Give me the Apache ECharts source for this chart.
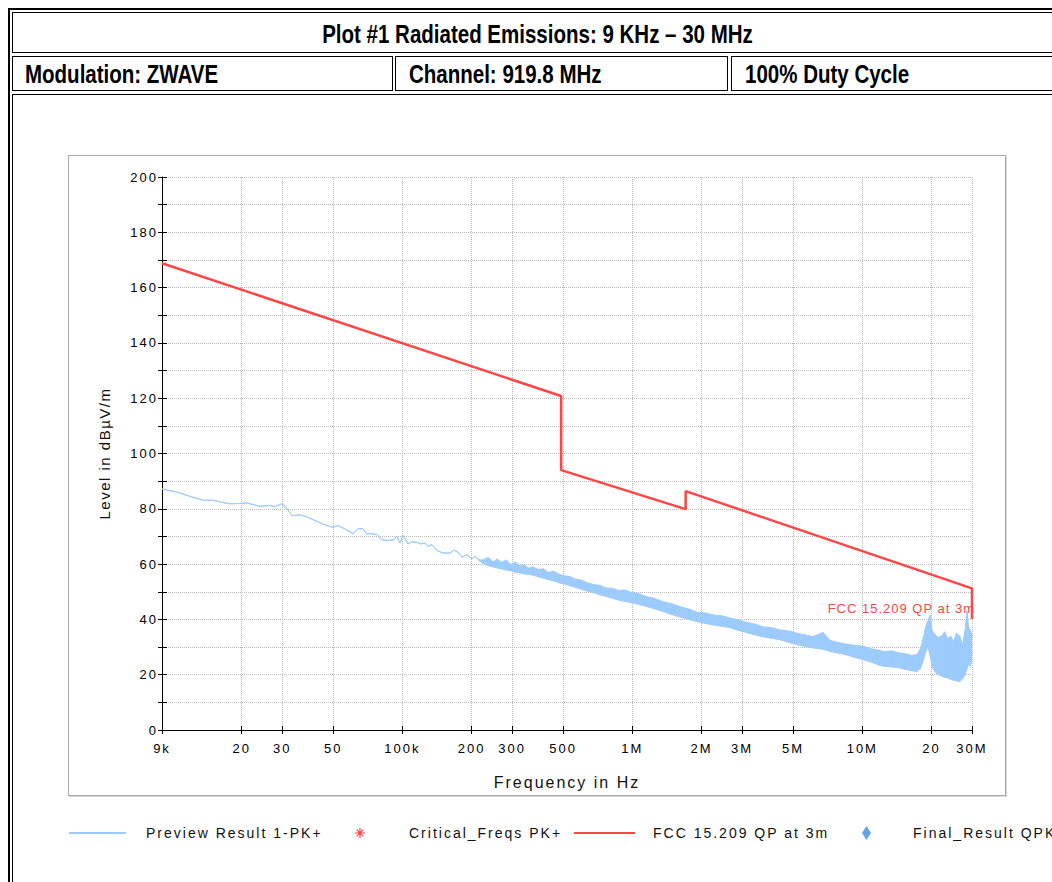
<!DOCTYPE html>
<html>
<head>
<meta charset="utf-8">
<script src="https://cdn.jsdelivr.net/npm/echarts@6/dist/echarts.min.js"></script>
<style>
html,body{margin:0;padding:0;background:#fff;width:1052px;height:882px;overflow:hidden;}
.ln{position:absolute;background:#000;}
.cell{position:absolute;box-sizing:border-box;border:1px solid #000;}
.hd{position:absolute;font-family:"Liberation Sans",Arial,sans-serif;font-weight:bold;font-size:25px;line-height:26px;color:#000;white-space:nowrap;transform:scaleX(0.82);transform-origin:0 50%;}
#title{left:0;width:1075px;text-align:center;transform-origin:50% 50%;}
#box{position:absolute;left:68px;top:155px;width:938px;height:641px;box-sizing:border-box;border:1px solid #a9a9a9;box-shadow:1px 1px 0 #d8d8d8;}
#chart{position:absolute;left:0;top:0;width:1052px;height:882px;}
</style>
</head>
<body>
<div class="ln" style="left:8px;top:8px;width:2px;height:874px"></div>
<div class="ln" style="left:8px;top:8px;width:1044px;height:2px"></div>
<div class="cell" style="left:12px;top:12px;width:1100px;height:41px"></div>
<div class="cell" style="left:12px;top:56px;width:381px;height:35px"></div>
<div class="cell" style="left:395px;top:56px;width:333px;height:35px"></div>
<div class="cell" style="left:731px;top:56px;width:500px;height:35px"></div>
<div class="cell" style="left:12px;top:94px;width:1100px;height:900px"></div>
<div class="hd" id="title" style="top:21px">Plot #1 Radiated Emissions: 9 KHz – 30 MHz</div>
<div class="hd" style="left:25px;top:61px">Modulation: ZWAVE</div>
<div class="hd" style="left:409px;top:61px">Channel: 919.8 MHz</div>
<div class="hd" style="left:745px;top:61px">100% Duty Cycle</div>
<div id="box"></div>
<div id="chart"></div>
<script>
// ---------------- data ----------------
const xTickValues = [9000, 20000, 30000, 50000, 100000, 200000, 300000, 500000, 1000000, 2000000, 3000000, 5000000, 10000000, 20000000, 30000000];
const xTickLabels = ['9k', '20', '30', '50', '100k', '200', '300', '500', '1M', '2M', '3M', '5M', '10M', '20', '30M'];
const yLabelValues = [0, 20, 40, 60, 80, 100, 120, 140, 160, 180, 200];

// Preview Result 1-PK+ : frequency (Hz), lower and upper edge of the trace (dBµV/m)
const previewFreq = [
  9000, 10500, 11900, 13600, 15000, 16500, 17800, 19500, 21100, 24000, 26500, 27900, 29900, 30900, 33100, 35900, 38000, 40800, 45100, 49400,
  52500, 56300, 61000, 64100, 67400, 70100, 72300, 74500, 77500, 81500, 86500, 91000, 94700, 97600, 100500, 105700, 110000, 115700, 120000, 125400,
  129200, 134500, 141400, 150200, 161000, 167000, 172800, 181600, 190900, 200800, 207000, 213200,
  224000, 236000, 248000, 258000, 270000, 283000, 296000, 310000, 325000, 340000, 355000, 370000, 390000, 410000, 430000, 455000, 480000, 505000,
  535000, 565000, 600000, 640000, 680000, 720000, 770000, 820000, 870000, 930000,
  1000000, 1070000, 1150000, 1250000, 1360000, 1480000, 1610000, 1760000, 1910000, 2080000, 2250000, 2450000, 2660000, 2900000, 3150000, 3420000,
  3700000, 4030000, 4390000, 4780000, 5200000, 5650000, 6100000, 6750000, 7250000, 7900000, 8600000, 9300000,
  10100000, 10900000, 11700000, 12500000, 13400000, 14400000, 15400000, 16400000, 17300000, 17900000, 18400000, 18900000, 19300000, 19700000, 20100000,
  20700000, 21400000, 22100000, 22800000, 23500000, 24200000, 24900000, 25700000, 26500000, 27300000, 28000000, 28500000, 29000000, 29500000, 30000000
];
const previewMin = [
  87.2, 86.0, 84.5, 83.1, 83.1, 82.3, 81.8, 81.9, 82.1, 80.9, 81.2, 80.8, 81.8, 80.9, 77.5, 77.8, 77.2, 76.1, 74.5, 73.3,
  73.9, 72.7, 71.0, 72.8, 72.8, 70.7, 71.1, 70.9, 70.7, 68.8, 68.5, 68.8, 70.0, 67.6, 70.5, 67.3, 68.0, 67.9, 67.3, 67.6,
  66.4, 67.0, 64.9, 64.0, 64.0, 65.0, 64.6, 62.5, 63.4, 61.9, 62.8, 61.6,
  60.2, 59.4, 59.0, 58.6, 58.3, 57.8, 57.6, 57.0, 56.8, 56.4, 56.3, 56.0, 55.4, 54.9, 54.4, 53.9, 53.2, 52.8,
  52.2, 51.6, 50.9, 50.2, 49.6, 48.9, 48.3, 47.6, 47.0, 46.5,
  46.0, 45.4, 44.7, 43.8, 42.9, 41.8, 40.9, 40.0, 39.2, 38.5, 38.0, 37.5, 37.0, 36.0, 35.2, 34.4,
  33.7, 33.2, 32.6, 31.7, 30.9, 30.2, 29.7, 29.2, 28.4, 27.8, 27.1, 26.2,
  25.4, 24.6, 23.6, 23.0, 22.8, 22.5, 21.9, 21.4, 21.2, 22.3, 25.0, 28.5, 30.0, 27.0, 23.0,
  21.0, 20.0, 19.5, 19.0, 18.8, 18.3, 18.0, 17.8, 17.5, 18.5, 20.0, 22.0, 24.0, 23.0, 25.5
];
const previewMax = [
  87.2, 86.0, 84.5, 83.1, 83.1, 82.3, 81.8, 81.9, 82.1, 80.9, 81.2, 80.8, 81.8, 80.9, 77.5, 77.8, 77.2, 76.1, 74.5, 73.3,
  73.9, 72.7, 71.0, 72.8, 72.8, 70.7, 71.1, 70.9, 70.7, 68.8, 68.5, 68.8, 70.0, 67.6, 70.5, 67.3, 68.0, 67.9, 67.3, 67.6,
  66.4, 67.0, 64.9, 64.0, 64.0, 65.0, 64.6, 62.5, 63.4, 61.9, 62.8, 61.6,
  61.5, 62.4, 60.8, 61.8, 60.6, 61.5, 59.9, 60.7, 59.4, 59.6, 58.5, 59.0, 58.0, 58.3, 57.0, 57.4, 56.3, 55.8,
  55.5, 54.6, 54.2, 53.2, 52.6, 52.3, 51.4, 51.2, 50.5, 50.6,
  49.6, 49.3, 48.2, 47.6, 46.4, 45.7, 44.6, 43.8, 42.6, 42.3, 41.6, 41.3, 40.5, 39.8, 38.9, 38.3,
  37.3, 37.0, 36.2, 35.8, 35.0, 34.4, 33.8, 35.3, 32.4, 31.6, 31.0, 30.6,
  30.3, 29.4, 28.9, 28.3, 28.6, 27.9, 27.6, 27.0, 27.3, 29.5, 33.0, 37.5, 39.5, 41.5, 36.0,
  34.5, 33.5, 34.0, 35.5, 33.0, 34.0, 32.0, 35.0, 34.0, 31.0, 36.0, 43.0, 37.0, 36.0, 34.5
];

// FCC 15.209 QP at 3m limit line
const limitFreq = [9000, 490000, 490000, 1705000, 1705000, 30000000, 30000000];
const limitLevel = [168.8, 120.8, 94.0, 79.9, 86.4, 51.2, 40.1];

const criticalFreqs = [];
const finalResult = [];

// ---------------- chart ----------------
const FONT = '"Liberation Sans", Arial, sans-serif';
const BLUE = '#9ccbfc';
const RED = '#ff4545';

const previewData = previewFreq.map((f, i) => [f, previewMin[i], previewMax[i]]);
const limitData = limitFreq.map((f, i) => [f, limitLevel[i]]);

function xLabel(v) {
  for (let i = 0; i < xTickValues.length; i++) {
    if (Math.abs(v / xTickValues[i] - 1) < 1e-6) return xTickLabels[i];
  }
  return '';
}

// trace band between lower and upper edge, one quad per step, placed with the axis scales
function renderPreview(params, api) {
  const i = params.dataIndex;
  if (i === 0) return null;
  const p0 = previewData[i - 1];
  const a = api.coord([p0[0], p0[2]]);
  const b = api.coord([api.value(0), api.value(2)]);
  const c = api.coord([api.value(0), api.value(1)]);
  const d = api.coord([p0[0], p0[1]]);
  return {
    type: 'polygon',
    shape: { points: [a, b, c, d] },
    style: { fill: BLUE, stroke: BLUE, lineWidth: 1, lineJoin: 'round' },
    silent: true
  };
}

const gridLine = { show: true, lineStyle: { color: '#b9b9b9', width: 1, type: [1, 1] } };
const legendText = { color: '#111', fontSize: 14, fontFamily: FONT };

const option = {
  animation: false,
  textStyle: { fontFamily: FONT },
  grid: { left: 162, right: 80, top: 177, bottom: 152, containLabel: false, outerBoundsMode: 'none' },
  xAxis: [{
    type: 'log', logBase: 10, min: 9000, max: 30000000,
    axisLine: { show: true, onZero: false, lineStyle: { color: '#000', width: 1 } },
    axisTick: { show: true, length: 4, customValues: xTickValues, lineStyle: { color: '#000' } },
    axisLabel: { show: true, customValues: xTickValues, formatter: xLabel, color: '#000', fontSize: 13, fontFamily: FONT, margin: 12 },
    splitLine: gridLine,
    name: 'Frequency in Hz', nameLocation: 'middle', nameGap: 44,
    nameTextStyle: { color: '#111', fontSize: 16, fontFamily: FONT }
  }, {
    type: 'log', logBase: 10, min: 9000, max: 30000000, position: 'bottom',
    axisLine: { show: false, onZero: false },
    axisTick: { show: true, inside: true, length: 4, customValues: xTickValues, lineStyle: { color: '#000' } },
    axisLabel: { show: false }, splitLine: { show: false }
  }],
  yAxis: [{
    type: 'value', min: 0, max: 200, interval: 10,
    axisLine: { show: true, onZero: false, lineStyle: { color: '#000', width: 1 } },
    axisTick: { show: true, length: 4, lineStyle: { color: '#000' } },
    axisLabel: { color: '#000', fontSize: 13, fontFamily: FONT, margin: 4,
      formatter: v => (yLabelValues.indexOf(v) >= 0 ? String(v) : '') },
    splitLine: gridLine,
    name: 'Level in dBµV/m', nameLocation: 'middle', nameGap: 50,
    nameTextStyle: { color: '#111', fontSize: 15, fontFamily: FONT }
  }, {
    type: 'value', min: 0, max: 200, interval: 10, position: 'left',
    axisLine: { show: false, onZero: false },
    axisTick: { show: true, inside: true, length: 5, lineStyle: { color: '#000' } },
    axisLabel: { show: false }, splitLine: { show: false }
  }],
  legend: [
    { left: 68, top: 826, padding: 0, selectedMode: false, itemWidth: 57, itemHeight: 2,
      textStyle: Object.assign({ padding: [0, 0, 0, 15] }, legendText), data: ['Preview Result 1-PK+'] },
    { left: 355, top: 826, padding: 0, selectedMode: false, itemWidth: 10, itemHeight: 11,
      textStyle: Object.assign({ padding: [0, 0, 0, 39] }, legendText),
      data: [{ name: 'Critical_Freqs PK+', icon: 'path://M4.4 0h1.2v10h-1.2zM0 4.4h10v1.2h-10zM1.3 2.1l0.8-0.8 6.6 6.6-0.8 0.8zM7.9 1.3l0.8 0.8-6.6 6.6-0.8-0.8z' }] },
    { left: 573, top: 826, padding: 0, selectedMode: false, itemWidth: 61, itemHeight: 2,
      textStyle: Object.assign({ padding: [0, 0, 0, 13] }, legendText), data: ['FCC 15.209 QP at 3m'] },
    { left: 862, top: 826, padding: 0, selectedMode: false, itemWidth: 9, itemHeight: 14,
      textStyle: Object.assign({ padding: [0, 0, 0, 37] }, legendText), data: ['Final_Result QPK'] }
  ],
  series: [
    { name: 'Preview Result 1-PK+', type: 'line', data: [], symbol: 'none',
      lineStyle: { color: BLUE, width: 1 }, itemStyle: { color: BLUE } },
    { name: 'Preview Result 1-PK+', type: 'custom', data: previewData, renderItem: renderPreview,
      encode: { x: 0, y: [1, 2] }, clip: true, itemStyle: { color: BLUE }, z: 2 },
    { name: 'Critical_Freqs PK+', type: 'scatter', data: criticalFreqs, itemStyle: { color: '#ff1010' } },
    { name: 'FCC 15.209 QP at 3m', type: 'line', data: limitData, symbol: 'none',
      lineStyle: { color: RED, width: 2.5 }, itemStyle: { color: RED }, z: 3,
      markPoint: { symbol: 'circle', symbolSize: 0, silent: true,
        data: [{ coord: [30000000, 51.2],
          label: { show: true, formatter: 'FCC 15.209 QP at 3m', position: 'left', distance: 0, offset: [3, 20],
            color: RED, fontSize: 13, fontFamily: FONT } }] } },
    { name: 'Final_Result QPK', type: 'scatter', data: finalResult, symbol: 'diamond', itemStyle: { color: '#3d8fe0' } }
  ]
};

const chart = echarts.init(document.getElementById('chart'), null, { renderer: 'svg', width: 1052, height: 882 });
chart.setOption(option);

function spacing() {
  document.querySelectorAll('#chart text').forEach(t => {
    const s = (t.textContent || '').trim();
    const fs = parseFloat(getComputedStyle(t).fontSize);
    let ls = 2;
    if (s === 'FCC 15.209 QP at 3m' && fs < 14) ls = 1;
    if (s.indexOf('Level in') === 0) ls = 1.5;
    t.style.letterSpacing = ls + 'px';
  });
}
spacing();
chart.on('finished', spacing);
setTimeout(spacing, 30);
</script>
</body>
</html>
